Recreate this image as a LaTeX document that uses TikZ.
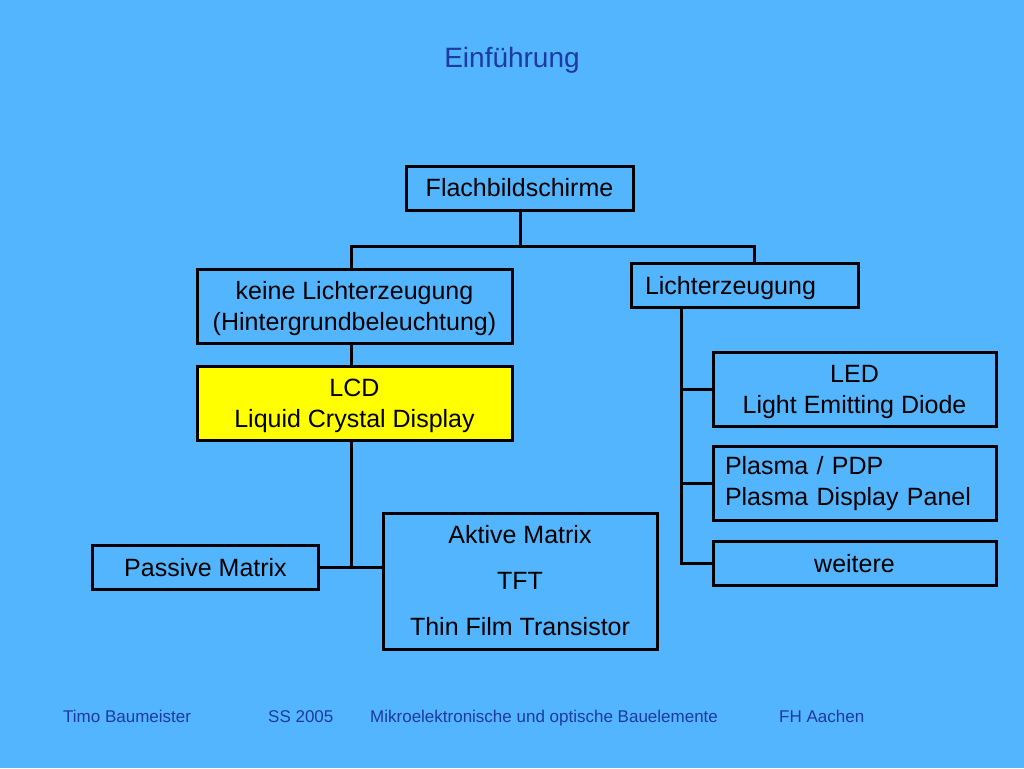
\documentclass[tikz,border=0pt]{standalone}
\usepackage{fontspec}
\setmainfont{Liberation Sans}
\definecolor{bg}{RGB}{84,181,255}
\definecolor{titleblue}{RGB}{28,58,160}
\definecolor{boxyellow}{RGB}{255,255,0}
\begin{document}
\begin{tikzpicture}[x=1pt,y=-1pt,
  box/.style={draw=black,line width=3pt,rectangle,inner sep=0pt,align=center,
    font=\fontsize{25}{31}\selectfont,text=black},
  lowtext/.style={text depth=0pt},
  conn/.style={draw=black,line width=3pt,line cap=rect},
  foot/.style={font=\fontsize{17}{20}\selectfont,text=titleblue,inner sep=0pt,anchor=base west}]
\fill[bg] (0,0) rectangle (1024,768);
\useasboundingbox (0,0) rectangle (1024,768);

\node[font=\fontsize{28}{34}\selectfont,text=titleblue] (title) at (512,60) {Einführung};

\node[box,minimum width=227pt,minimum height=44pt] (F) at (519.5,188) {Flachbildschirme};
\node[box,lowtext,minimum width=315pt,minimum height=74pt] (K) at (354.5,306) {keine Lichterzeugung\\(Hintergrundbeleuchtung)};
\node[box,lowtext,minimum width=227pt,minimum height=44pt,text width=199pt,align=left] (L) at (744.5,285) {Lichterzeugung};
\node[box,lowtext,fill=boxyellow,minimum width=315pt,minimum height=74pt] (LCD) at (354.5,403) {LCD\\Liquid Crystal Display};
\node[box,lowtext,minimum width=283pt,minimum height=74pt] (LED) at (854.5,389) {LED\\Light Emitting Diode};
\node[box,minimum width=283pt,minimum height=74pt,text width=259pt,align=left] (PL) at (854.5,483.5) {Plasma / PDP\\Plasma Display Panel};
\node[box,minimum width=283pt,minimum height=44pt] (W) at (854.5,563.5) {weitere};
\node[box,minimum width=226pt,minimum height=44pt] (P) at (205.5,567.5) {Passive Matrix};
\node[box,minimum width=274pt,minimum height=136pt] (A) at (520,581) {Aktive Matrix\\[15pt]TFT\\[15pt]Thin Film Transistor};

\coordinate (jt) at (520,246);
\coordinate (jl) at (351,246);
\coordinate (jr) at (754,246);
\coordinate (rv) at (681.5,0);

\draw[conn] (F.south -| jt) -- (jt);
\draw[conn] (jl |- K.north) -- (jl) -- (jr) -- (jr |- L.north);
\draw[conn] (jl |- K.south) -- (jl |- LCD.north);
\draw[conn] (jl |- LCD.south) -- (jl |- P.east);
\draw[conn] (P.east) -- (A.west |- P.east);
\draw[conn] (rv |- L.south) -- (rv |- W.west) -- (W.west);
\draw[conn] (rv |- LED.west) -- (LED.west);
\draw[conn] (rv |- PL.west) -- (PL.west);

\node[foot] (f1) at (63,722) {Timo Baumeister};
\node[foot] (f2) at (268,722) {SS 2005};
\node[foot] (f3) at (370,722) {Mikroelektronische und optische Bauelemente};
\node[foot] (f4) at (779,722) {FH Aachen};
\end{tikzpicture}
\end{document}
